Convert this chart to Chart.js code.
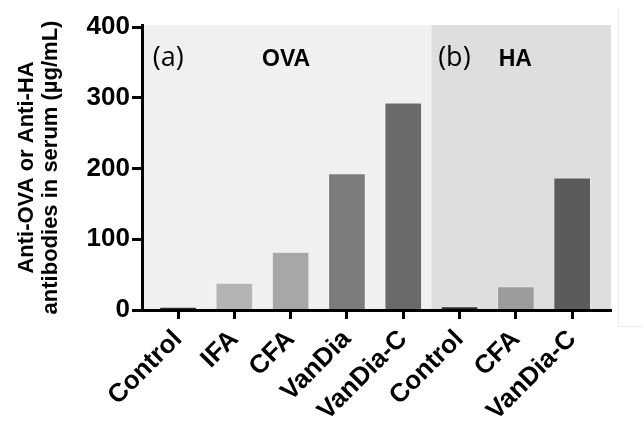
<!DOCTYPE html>
<html>
<head>
<meta charset="utf-8">
<script src="https://cdn.jsdelivr.net/npm/chart.js@4.4.1/dist/chart.umd.min.js"></script>
<style>
  html, body { margin: 0; padding: 0; background: #fff; }
  #wrap { width: 643px; height: 423px; position: relative; }
</style>
</head>
<body>
<div id="wrap"><canvas id="chart" width="643" height="423"></canvas></div>
<script>
// Data
const categories = ['Control', 'IFA', 'CFA', 'VanDia', 'VanDia-C', 'Control', 'CFA', 'VanDia-C'];
const antibodyValues = [4, 38, 82, 193, 293, 5, 33, 187];
const barColors = ['#2e2e2e', '#b4b4b4', '#a7a7a7', '#7c7c7c', '#6a6a6a', '#2e2e2e', '#9c9c9c', '#5b5b5b'];
const yTicks = [0, 100, 200, 300, 400];
const panelNames = ['(a)', '(b)'];
const antigenNames = ['OVA', 'HA'];

const FONT = '"Liberation Sans", Arial, sans-serif';

// shaded panels behind the bars + labels
const panelPlugin = {
    id: 'panels',
    beforeDraw(chart) {
        const { ctx, chartArea: a, scales: { x } } = chart;
        const split = x.getPixelForValue(4.5);
        ctx.save();
        ctx.fillStyle = '#f0f0f0';
        ctx.fillRect(a.left, a.top, split - a.left, a.bottom - a.top);
        ctx.fillStyle = '#dedede';
        ctx.fillRect(split, a.top, a.right - split, a.bottom - a.top);
        ctx.restore();
    },
    afterDraw(chart) {
        const { ctx, chartArea: a, scales: { x } } = chart;
        ctx.save();
        ctx.fillStyle = '#000';
        ctx.textBaseline = 'middle';
        ctx.textAlign = 'left';
        ctx.font = '27px "Open Sans", ' + FONT;
        ctx.fillText(panelNames[0], x.getPixelForValue(-0.45), a.top + 33);
        ctx.fillText(panelNames[1], x.getPixelForValue(4.62), a.top + 33);
        ctx.textAlign = 'center';
        ctx.font = 'bold 23px ' + FONT;
        ctx.fillText(antigenNames[0], x.getPixelForValue(1.92), a.top + 35);
        ctx.fillText(antigenNames[1], x.getPixelForValue(5.99), a.top + 35);
        // faint frame line at the right edge of the figure
        ctx.strokeStyle = '#ececec';
        ctx.lineWidth = 1;
        ctx.beginPath();
        ctx.moveTo(618.5, 8);
        ctx.lineTo(618.5, 326.5);
        ctx.lineTo(643, 326.5);
        ctx.stroke();
        ctx.restore();
    }
};

const ctx = document.getElementById('chart').getContext('2d');
new Chart(ctx, {
    type: 'bar',
    data: {
        datasets: [{
            data: antibodyValues.map((v, i) => ({ x: i, y: v })),
            backgroundColor: barColors,
            borderColor: 'rgba(255,255,255,0.25)',
            borderWidth: 1,
            barThickness: 37
        }]
    },
    options: {
        responsive: false,
        animation: false,
        layout: { padding: { top: 25, right: 32, left: 0, bottom: 0 } },
        plugins: { legend: { display: false }, tooltip: { enabled: false } },
        scales: {
            x: {
                type: 'linear',
                offset: false,
                min: -0.64,
                max: 7.69,
                afterBuildTicks(scale) { scale.ticks = categories.map((c, i) => ({ value: i })); },
                afterFit(scale) { scale.height = 113; },
                ticks: {
                    autoSkip: false,
                    maxRotation: 45,
                    minRotation: 45,
                    padding: 5,
                    color: '#000',
                    font: { family: FONT, size: 26, weight: 'bold' },
                    callback: (v) => categories[v]
                },
                grid: { offset: false, drawOnChartArea: false, drawTicks: true, tickLength: 9, tickWidth: 3, tickColor: '#000' },
                border: { display: true, color: '#000', width: 3, z: 1 }
            },
            y: {
                min: 0,
                max: 403,
                afterBuildTicks(scale) { scale.ticks = yTicks.map(v => ({ value: v })); },
                afterFit(scale) { scale.width = 142; },
                ticks: {
                    padding: 2,
                    color: '#000',
                    font: { family: FONT, size: 26, weight: 'bold' }
                },
                grid: { drawOnChartArea: false, drawTicks: true, tickLength: 10, tickWidth: 3, tickColor: '#000' },
                border: { display: true, color: '#000', width: 3, z: 1 },
                title: {
                    display: true,
                    text: ['Anti-OVA or Anti-HA', 'antibodies in serum (µg/mL)'],
                    color: '#000',
                    font: { family: FONT, size: 22, weight: 'bold', lineHeight: 1.1 },
                    padding: { top: 15, bottom: 0 }
                }
            }
        }
    },
    plugins: [panelPlugin]
});
</script>
</body>
</html>
